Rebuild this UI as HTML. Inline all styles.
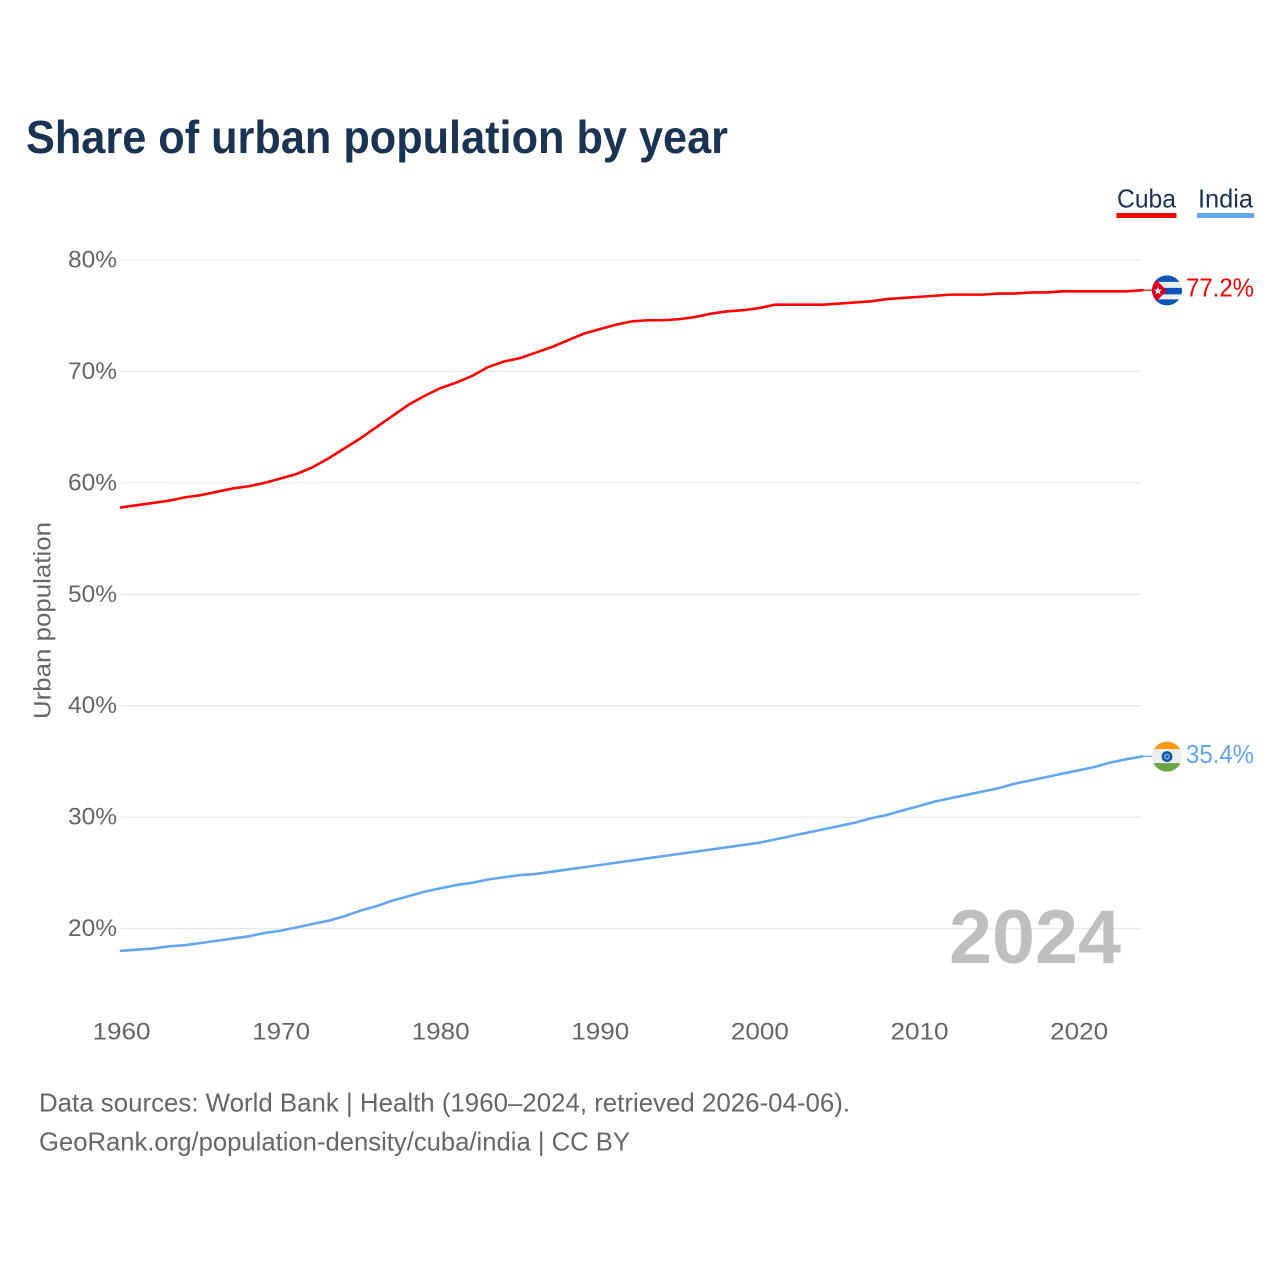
<!DOCTYPE html>
<html lang="en">
<head>
<meta charset="utf-8">
<title>Share of urban population by year</title>
<style>
html,body{margin:0;padding:0;background:#fff;}
svg{display:block;font-family:"Liberation Sans",sans-serif;}
</style>
</head>
<body>
<svg id="chart" xmlns="http://www.w3.org/2000/svg" width="1280" height="1280" viewBox="0 0 1280 1280">
  <rect x="0" y="0" width="1280" height="1280" fill="#ffffff"/>
  <text x="26" y="153" font-size="46" font-weight="700" fill="#1a3353" textLength="702" lengthAdjust="spacingAndGlyphs">Share of urban population by year</text>
  <g id="grid"></g>
  <g id="yticks"></g>
  <g id="xticks"></g>
  <text transform="translate(50.5,719) rotate(-90)" x="0" y="0" font-size="24" fill="#666666" textLength="197" lengthAdjust="spacingAndGlyphs">Urban population</text>
  <text x="949" y="963" font-size="76" font-weight="700" fill="#bfbfbf" textLength="172" lengthAdjust="spacingAndGlyphs">2024</text>
  <g id="series"></g>
  <g>
    <g>
      <text x="1117" y="207.5" font-size="26" fill="#1a3353" textLength="59" lengthAdjust="spacingAndGlyphs">Cuba</text>
      <rect x="1116.5" y="213" width="60" height="5" fill="#ff0000"/>
    </g>
    <g>
      <text x="1198" y="207.5" font-size="26" fill="#1a3353" textLength="55" lengthAdjust="spacingAndGlyphs">India</text>
      <rect x="1197" y="213" width="57" height="5" fill="#63a6ec"/>
    </g>
  </g>
  <defs>
    <clipPath id="clip-cuba"><circle cx="0" cy="0" r="15"/></clipPath>
    <clipPath id="clip-india"><circle cx="0" cy="0" r="15"/></clipPath>
  </defs>
  <g id="flag-cuba" clip-path="url(#clip-cuba)">
    <rect x="-15" y="-15" width="30" height="30" fill="#eeeeee"/>
    <rect x="-15" y="-15" width="30" height="6.5" fill="#0b56b8"/>
    <rect x="-15" y="-2.5" width="30" height="6.5" fill="#0b56b8"/>
    <rect x="-15" y="9" width="30" height="6" fill="#0b56b8"/>
    <polygon points="-15,-15 -15,15 0,0.5" fill="#d80027"/>
    <polygon points="-9,-3.5 -7.9,-0.7 -5,-0.7 -7.3,1.2 -6.5,4.1 -9,2.4 -11.5,4.1 -10.7,1.2 -13,-0.7 -10.1,-0.7" fill="#f0f0f0"/>
  </g>
  <g id="flag-india" clip-path="url(#clip-india)">
    <rect x="-15" y="-15" width="30" height="30" fill="#eeeeee"/>
    <rect x="-15" y="-15" width="30" height="7.5" fill="#ff9811"/>
    <rect x="-15" y="6.5" width="30" height="9" fill="#6da544"/>
    <circle cx="0" cy="0" r="5.4" fill="#0b56a8"/>
    <circle cx="0" cy="0" r="3" fill="#7fa3cf"/>
    <circle cx="0" cy="0" r="1.4" fill="#0b56a8"/>
  </g>
  <g>
    <text x="39" y="1111.5" font-size="26" fill="#666666" textLength="811" lengthAdjust="spacingAndGlyphs">Data sources: World Bank | Health (1960–2024, retrieved 2026-04-06).</text>
    <text x="39" y="1150.5" font-size="26" fill="#666666" textLength="591" lengthAdjust="spacingAndGlyphs">GeoRank.org/population-density/cuba/india | CC BY</text>
  </g>
</svg>
<script>
const years = [1960,1961,1962,1963,1964,1965,1966,1967,1968,1969,1970,1971,1972,1973,1974,1975,1976,1977,1978,1979,1980,1981,1982,1983,1984,1985,1986,1987,1988,1989,1990,1991,1992,1993,1994,1995,1996,1997,1998,1999,2000,2001,2002,2003,2004,2005,2006,2007,2008,2009,2010,2011,2012,2013,2014,2015,2016,2017,2018,2019,2020,2021,2022,2023,2024];
const cubaValues = [57.8,58.0,58.2,58.4,58.7,58.9,59.2,59.5,59.7,60.0,60.4,60.8,61.4,62.2,63.1,64.0,65.0,66.0,67.0,67.8,68.5,69.0,69.6,70.4,70.9,71.2,71.7,72.2,72.8,73.4,73.8,74.2,74.5,74.6,74.6,74.7,74.9,75.2,75.4,75.5,75.7,76.0,76.0,76.0,76.0,76.1,76.2,76.3,76.5,76.6,76.7,76.8,76.9,76.9,76.9,77.0,77.0,77.1,77.1,77.2,77.2,77.2,77.2,77.2,77.3];
const indiaValues = [18.0,18.1,18.2,18.4,18.5,18.7,18.9,19.1,19.3,19.6,19.8,20.1,20.4,20.7,21.1,21.6,22.0,22.5,22.9,23.3,23.6,23.9,24.1,24.4,24.6,24.8,24.9,25.1,25.3,25.5,25.7,25.9,26.1,26.3,26.5,26.7,26.9,27.1,27.3,27.5,27.7,28.0,28.3,28.6,28.9,29.2,29.5,29.9,30.2,30.6,31.0,31.4,31.7,32.0,32.3,32.6,33.0,33.3,33.6,33.9,34.2,34.5,34.9,35.2,35.45];
const yTickValues = [20,30,40,50,60,70,80];
const xTickValues = [1960,1970,1980,1990,2000,2010,2020];
const cubaEndLabel = "77.2%";
const indiaEndLabel = "35.4%";

const NS = "http://www.w3.org/2000/svg";
function xScale(year){ return 121 + (year - 1960) * 15.96; }
function yScale(value){ return 928.5 - (value - 20) * 11.14; }
function make(tag, attrs, parent){
  const el = document.createElementNS(NS, tag);
  for (const k in attrs) el.setAttribute(k, attrs[k]);
  parent.appendChild(el);
  return el;
}
const grid = document.getElementById("grid");
const yticks = document.getElementById("yticks");
const xticks = document.getElementById("xticks");
const seriesGroup = document.getElementById("series");

yTickValues.forEach(function(v){
  const line = make("line", {x1:121, x2:1141, y1:yScale(v), y2:yScale(v), stroke:"#e8e8e8", "stroke-width":1.3}, grid);
  
  
  const t = make("text", {x:117, y:yScale(v)+7.5, "font-size":24, fill:"#666666", "text-anchor":"end", textLength:49, lengthAdjust:"spacingAndGlyphs"}, yticks);
  t.textContent = v + "%";
  
  
});
xTickValues.forEach(function(v){
  const t = make("text", {x:xScale(v)+0.5, y:1039.5, "font-size":24, fill:"#666666", "text-anchor":"middle", textLength:58, lengthAdjust:"spacingAndGlyphs"}, xticks);
  t.textContent = String(v);
  
  
});

function drawSeries(values, color, flagId, endLabel){
  const d = values.map(function(v, i){
    return (i ? "L" : "M") + xScale(years[i]).toFixed(2) + " " + yScale(v).toFixed(2);
  }).join(" ");
  const path = make("path", {d:d, fill:"none", stroke:color, "stroke-width":2.6, "stroke-linejoin":"round", "stroke-linecap":"round"}, seriesGroup);
  
  
  const lastX = xScale(years[years.length - 1]);
  const lastY = yScale(values[values.length - 1]);
  const conn = make("line", {x1:lastX, x2:lastX + 10, y1:lastY, y2:lastY, stroke:color, "stroke-width":1.2}, seriesGroup);
  
  
  document.getElementById(flagId).setAttribute("transform", "translate(1167," + (lastY + 0.2) + ")");
  const t = make("text", {x:1186, y:lastY + 6.5, "font-size":26, fill:color, textLength:68, lengthAdjust:"spacingAndGlyphs"}, seriesGroup);
  t.textContent = endLabel;
  
  
}
drawSeries(cubaValues, "#ff0000", "flag-cuba", cubaEndLabel);
drawSeries(indiaValues, "#63a6ec", "flag-india", indiaEndLabel);
</script>
</body>
</html>
